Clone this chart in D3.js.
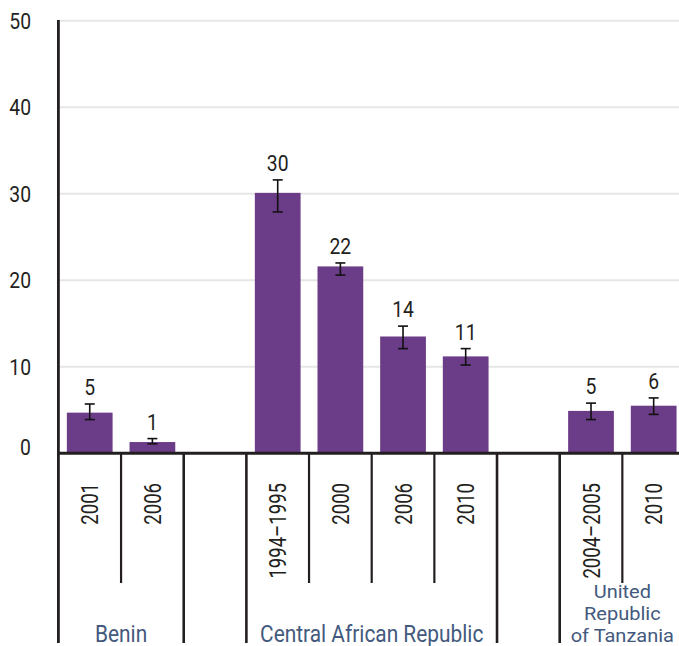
<!DOCTYPE html>
<html><head><meta charset="utf-8">
<script src="https://cdn.jsdelivr.net/npm/d3@7"></script>
<style>html,body{margin:0;padding:0;background:#fff;}svg{display:block;}</style>
</head><body>
<svg id="chart" width="679" height="646"></svg>
<script>
const groups = ["Benin", "Central African Republic", "United Republic of Tanzania"];
const groupLines = [["Benin"], ["Central African Republic"], ["United", "Republic", "of Tanzania"]];
const years = ["2001", "2006", "1994–1995", "2000", "2006", "2010", "2004–2005", "2010"];
const groupOf = [0, 0, 1, 1, 1, 1, 2, 2];
const values = [4.7, 1.3, 30.1, 21.6, 13.5, 11.2, 4.9, 5.5];
const errLow = [3.9, 1.1, 27.9, 20.6, 12.1, 10.2, 3.9, 4.5];
const errHigh = [5.7, 1.7, 31.6, 22.0, 14.7, 12.1, 5.8, 6.4];
const valueLabels = ["5", "1", "30", "22", "14", "11", "5", "6"];
const yTicks = [0, 10, 20, 30, 40, 50];

const svg = d3.select("#chart");
const W = 679;
const FONT = "Roboto, 'Liberation Sans', sans-serif";
const SX = 0.86;
const INK = "#231f20";
const BAR = "#6b3c87";
const GROUPCOL = "#43597d";

// slot layout: bars of each group, one empty slot between groups
const slots = [];
const barSlot = [];
const groupRange = [];
groups.forEach((g, gi) => {
  if (gi > 0) slots.push("gap" + gi);
  const start = slots.length;
  years.forEach((yr, i) => {
    if (groupOf[i] === gi) { barSlot[i] = slots.length; slots.push("b" + i); }
  });
  groupRange.push([start, slots.length]);
});

const x = d3.scaleBand().domain(slots).range([58.4, 685]).paddingInner(0).paddingOuter(0);
const bw = x.bandwidth();
const edge = k => 58.4 + k * bw;
const y = d3.scaleLinear().domain([0, 50]).range([453.3, 20.7]);

// gridlines
svg.append("g").selectAll("line").data(yTicks.filter(t => t > 0)).join("line")
  .attr("x1", 58).attr("x2", W).attr("y1", d => y(d)).attr("y2", d => y(d))
  .attr("stroke", "#e6e6e6").attr("stroke-width", 2);

// y tick labels
svg.append("g").selectAll("text").data(yTicks).join("text")
  .attr("transform", d => `translate(31,${d === 0 ? 455 : y(d) + 8}) scale(${SX},1)`)
  .attr("text-anchor", "end").attr("font-family", FONT).attr("font-size", 22.5)
  .attr("fill", INK).text(d => d);

// bars
const bw2 = bw * 0.73;
svg.append("g").selectAll("rect").data(values).join("rect")
  .attr("x", (d, i) => x(slots[barSlot[i]]) + (bw - bw2) / 2)
  .attr("width", bw2)
  .attr("y", d => y(d)).attr("height", d => y(0) - y(d))
  .attr("fill", BAR);

// error bars
const eg = svg.append("g").attr("stroke", "#111").attr("stroke-width", 1.6);
values.forEach((v, i) => {
  const cx = x(slots[barSlot[i]]) + bw / 2;
  eg.append("line").attr("x1", cx).attr("x2", cx).attr("y1", y(errLow[i])).attr("y2", y(errHigh[i]));
  eg.append("line").attr("x1", cx - 5).attr("x2", cx + 5).attr("y1", y(errLow[i])).attr("y2", y(errLow[i]));
  eg.append("line").attr("x1", cx - 5).attr("x2", cx + 5).attr("y1", y(errHigh[i])).attr("y2", y(errHigh[i]));
});

// value labels
svg.append("g").selectAll("text").data(valueLabels).join("text")
  .attr("transform", (d, i) => `translate(${x(slots[barSlot[i]]) + bw / 2},${y(errHigh[i]) - 9}) scale(${SX},1)`)
  .attr("text-anchor", "middle").attr("font-family", FONT).attr("font-size", 22.5)
  .attr("fill", INK).text(d => d);

// axes lines
svg.append("line").attr("x1", 58.4).attr("x2", 58.4).attr("y1", 20).attr("y2", 643)
  .attr("stroke", INK).attr("stroke-width", 2.8);
svg.append("line").attr("x1", 57).attr("x2", W).attr("y1", 453.3).attr("y2", 453.3)
  .attr("stroke", INK).attr("stroke-width", 3);

// ticks
const longTicks = new Set();
groupRange.forEach(r => { longTicks.add(r[0]); longTicks.add(r[1]); });
for (let k = 1; k <= slots.length; k++) {
  const isLong = longTicks.has(k);
  svg.append("line").attr("x1", edge(k)).attr("x2", edge(k))
    .attr("y1", 453.3).attr("y2", isLong ? 643 : 583)
    .attr("stroke", INK).attr("stroke-width", isLong ? 2.6 : 2.2);
}

// year labels (rotated)
svg.append("g").selectAll("text").data(years).join("text")
  .attr("transform", (d, i) => `translate(${x(slots[barSlot[i]]) + bw / 2 + 8.5},483) rotate(-90) scale(0.79,1)`)
  .attr("text-anchor", "end").attr("font-family", FONT).attr("font-size", 23.5)
  .attr("fill", INK).text(d => d);

// group labels
groupLines.forEach((lines, gi) => {
  const r = groupRange[gi];
  const cx = (edge(r[0]) + edge(r[1])) / 2;
  const fs = lines.length > 1 ? 18.7 : 24;
  const sx = lines.length > 1 ? 1.07 : 0.87;
  const lh = 22;
  const t = svg.append("text")
    .attr("transform", `translate(${cx},${642 - (lines.length - 1) * lh}) scale(${sx},1)`)
    .attr("text-anchor", "middle").attr("font-family", FONT).attr("font-size", fs)
    .attr("fill", GROUPCOL);
  lines.forEach((ln, li) => {
    t.append("tspan").attr("x", 0).attr("dy", li === 0 ? 0 : lh).text(ln);
  });
});
</script>
</body></html>
